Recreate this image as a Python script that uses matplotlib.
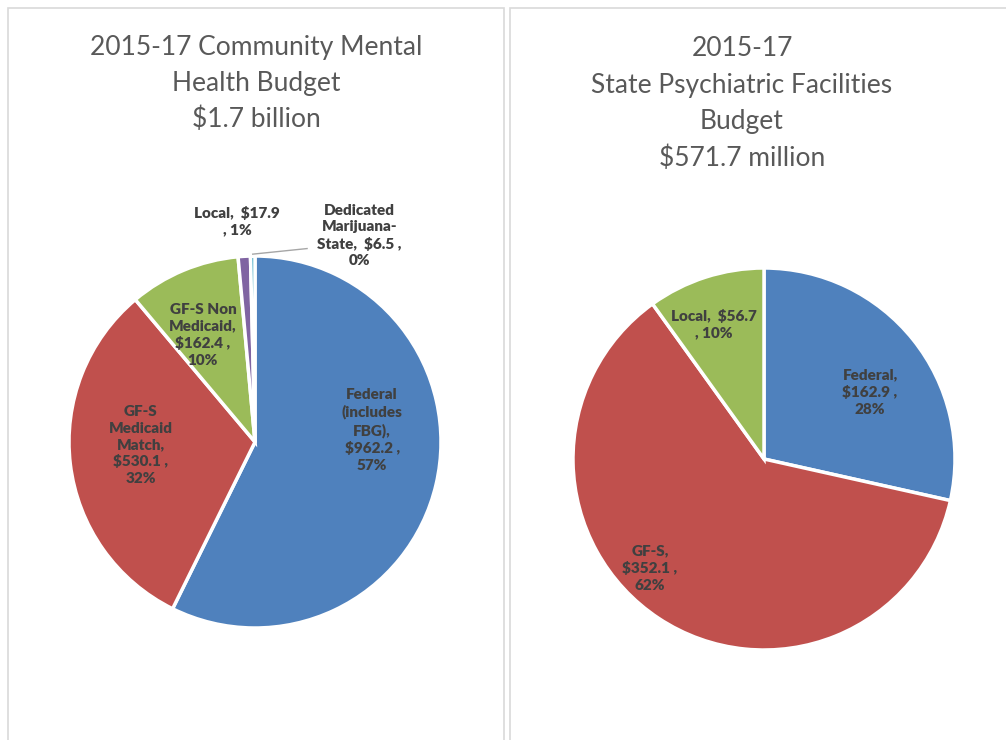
import matplotlib.pyplot as plt
import numpy as np
from matplotlib.patches import Rectangle

# Community mental health budget ($ millions)
cmh_labels = ["Federal\n(includes\nFBG),", "GF-S\nMedicaid\nMatch,", "GF-S Non\nMedicaid,",
              "Local,", "Dedicated\nMarijuana-\nState,"]
cmh_values = [962.2, 530.1, 162.4, 17.9, 6.5]
cmh_pcts = ["57%", "32%", "10%", "1%", "0%"]

# State psychiatric facilities budget ($ millions)
spf_labels = ["Federal,", "GF-S,", "Local,"]
spf_values = [162.9, 352.1, 56.7]
spf_pcts = ["28%", "62%", "10%"]

colours = ["#4F81BD", "#C0504D", "#9BBB59", "#8064A2", "#4BACC6"]
title_col = "#595959"
label_col = "#404040"

plt.rcParams["font.family"] = ["Lato", "DejaVu Sans"]

W, H = 1006, 740
fig = plt.figure(figsize=(W / 100, H / 100), dpi=100)

# panel frames
for x0, x1 in [(8, 504), (510, 1016)]:
    fig.add_artist(Rectangle((x0 / W, -0.1), (x1 - x0) / W, 1.1 - 8 / H,
                             transform=fig.transFigure, fill=False,
                             edgecolor="#d9d9d9", lw=1.2))


def pie_axes(cx, cy, r):
    return fig.add_axes([(cx - r) / W, (H - cy - r) / H, 2 * r / W, 2 * r / H])


def fmt(lab, val, pct, inline=False):
    if inline:
        return f"{lab}  ${val:.1f}\n, {pct}"
    return f"{lab}\n${val:.1f} ,\n{pct}"


LFS = 11
TFS = 19

# left pie
ax1 = pie_axes(255, 442, 186)
ax1.pie(cmh_values, colors=colours, startangle=90, counterclock=False,
        wedgeprops=dict(edgecolor="white", linewidth=2.5))
ax1.set_xlim(-1, 1)
ax1.set_ylim(-1, 1)
ax1.set_aspect("auto")
ax1.axis("off")

# label layout in pie-radius units
cmh_pos = [(0.63, 0.065), (-0.613, -0.016), (-0.28, 0.575), (-0.097, 1.19), (0.56, 1.11)]
for i, (lab, val, pct) in enumerate(zip(cmh_labels, cmh_values, cmh_pcts)):
    if i == 3:
        txt = fmt(lab, val, pct, inline=True)
    elif i == 4:
        txt = "Dedicated\nMarijuana-\nState,  $%.1f ,\n%s" % (val, pct)
    else:
        txt = fmt(lab, val, pct)
    ax1.text(*cmh_pos[i], txt, ha="center", va="center", fontsize=LFS,
             fontweight="heavy", color=label_col, linespacing=1.3, clip_on=False)

# leader line for the tiny slice
ang = np.deg2rad(90 + 360 * cmh_values[-1] / sum(cmh_values) / 2)
ax1.plot([np.cos(ang) * 1.01, 0.28], [np.sin(ang) * 1.01, 1.04], color="#a6a6a6",
         lw=1, clip_on=False)

for y, line in zip([48, 83, 119], ["2015-17 Community Mental", "Health Budget", "$1.7 billion"]):
    fig.text(256 / W, 1 - y / H, line, ha="center", va="center", fontsize=TFS,
             color=title_col)

# right pie
ax2 = pie_axes(764, 459, 191)
ax2.pie(spf_values, colors=colours[:3], startangle=90, counterclock=False,
        wedgeprops=dict(edgecolor="white", linewidth=2.5))
ax2.set_xlim(-1, 1)
ax2.set_ylim(-1, 1)
ax2.set_aspect("auto")
ax2.axis("off")

spf_pos = [(0.555, 0.35), (-0.597, -0.571), (-0.262, 0.707)]
for i, (lab, val, pct) in enumerate(zip(spf_labels, spf_values, spf_pcts)):
    txt = fmt(lab, val, pct, inline=(i == 2))
    ax2.text(*spf_pos[i], txt, ha="center", va="center", fontsize=LFS,
             fontweight="heavy", color=label_col, linespacing=1.3, clip_on=False)

for y, line in zip([48, 86, 122, 158],
                   ["2015-17", "State Psychiatric Facilities", "Budget", "$571.7 million"]):
    fig.text(742 / W, 1 - y / H, line, ha="center", va="center", fontsize=TFS,
             color=title_col)

plt.savefig("out.png", dpi=100)
